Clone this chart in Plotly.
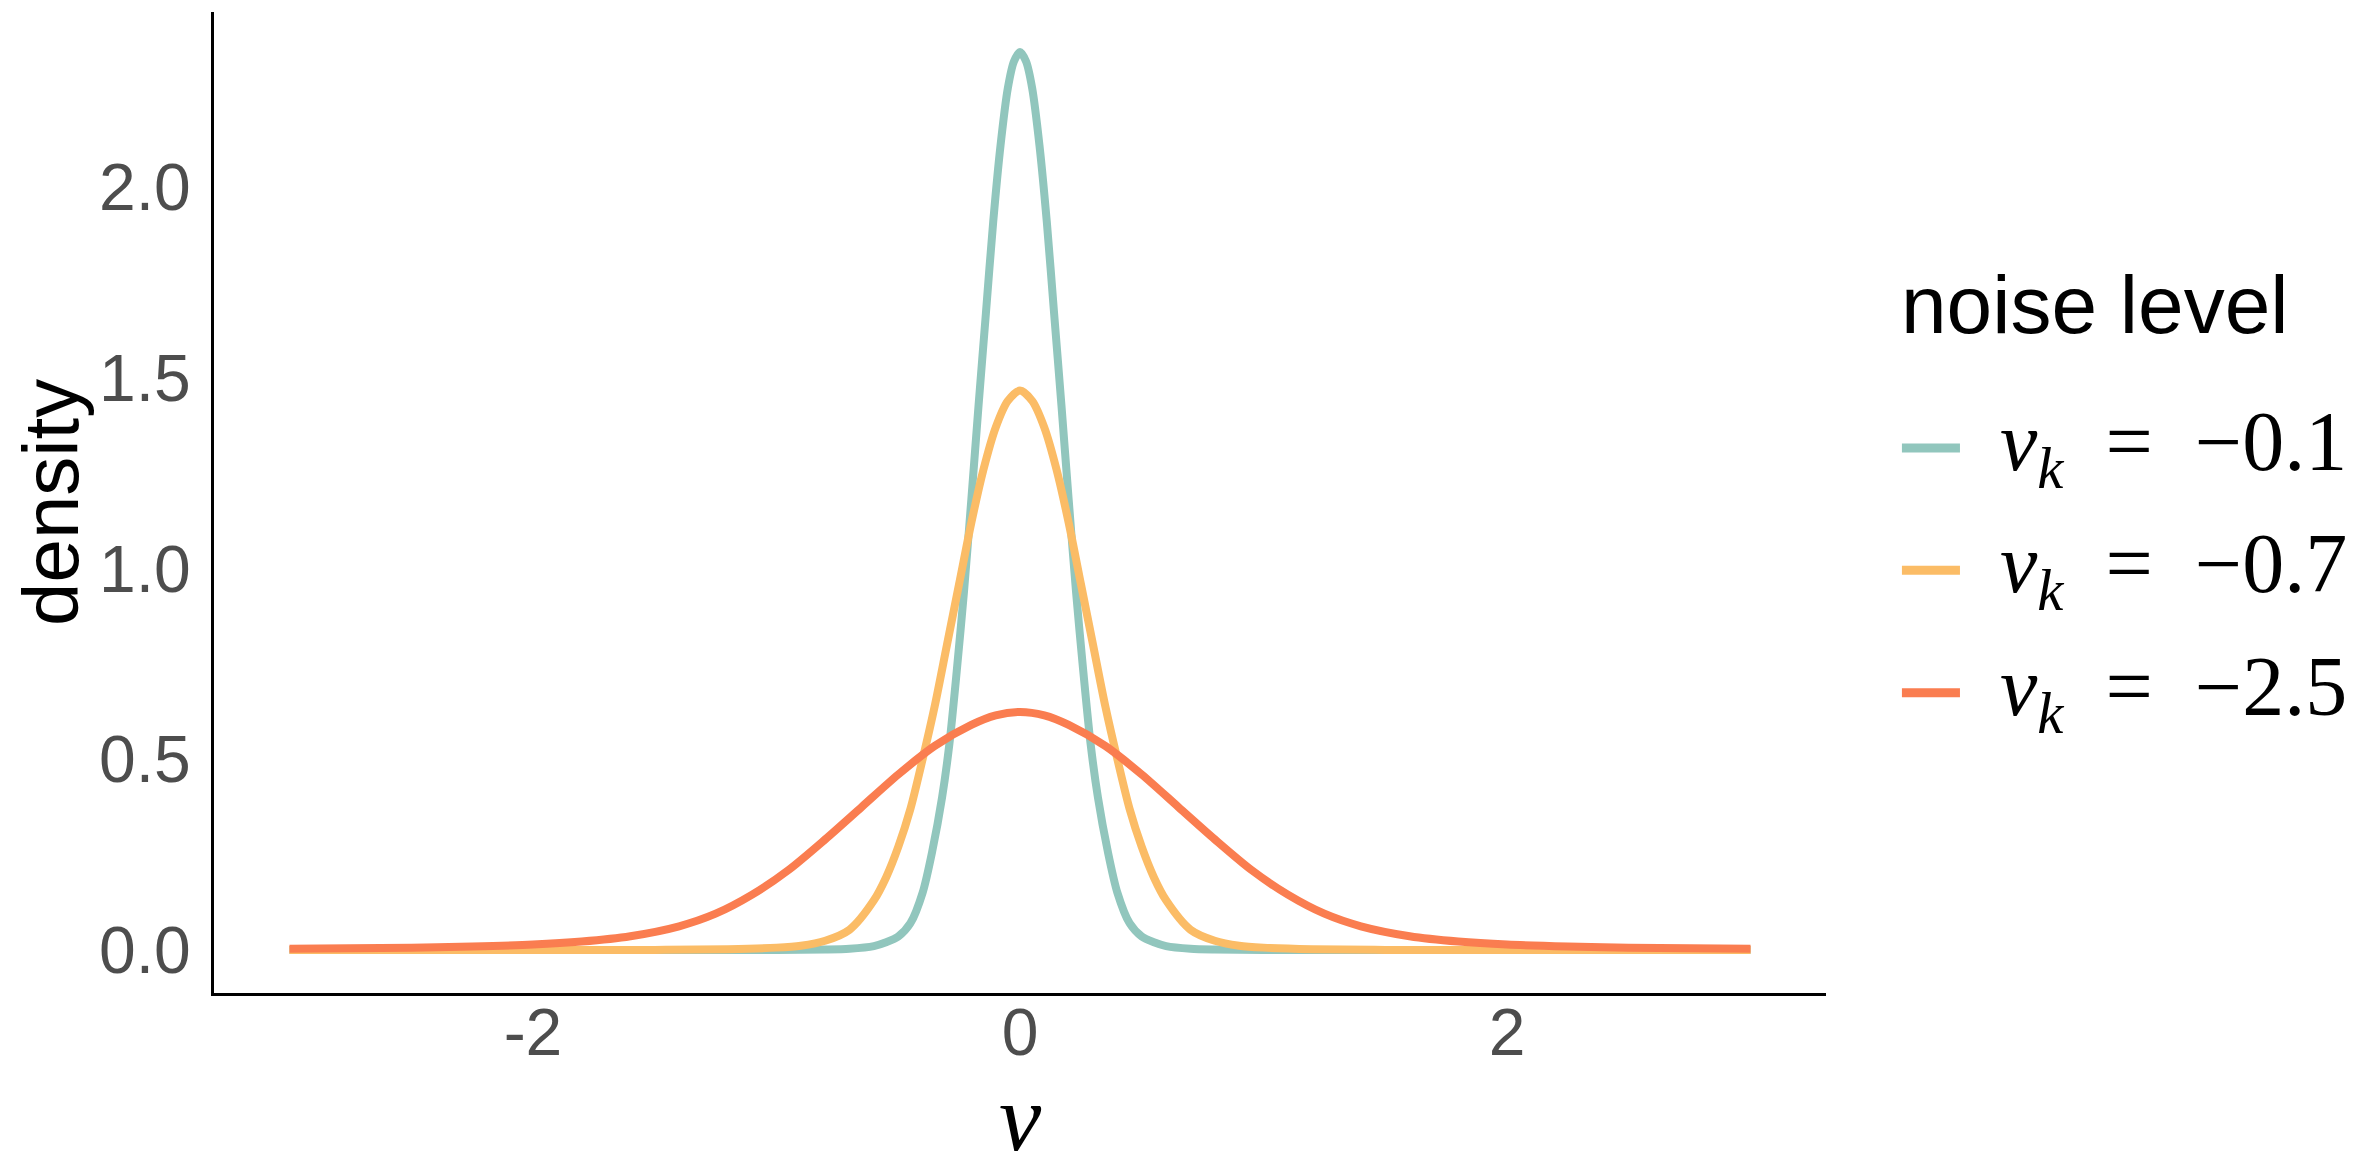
import plotly.graph_objects as go

# density curves, one list per noise level
x_teal = [-3.0, -1.0, -0.8, -0.7, -0.6, -0.55, -0.5, -0.45, -0.4, -0.36, -0.32, -0.29,
          -0.26, -0.23, -0.2, -0.17, -0.14, -0.11, -0.08, -0.05, -0.025, 0.0,
          0.025, 0.05, 0.08, 0.11, 0.14, 0.17, 0.2, 0.23, 0.26, 0.29, 0.32, 0.36,
          0.4, 0.45, 0.5, 0.55, 0.6, 0.7, 0.8, 1.0, 3.0]
y_teal = [0.0, 0.0, 0.001, 0.003, 0.010, 0.02, 0.035, 0.07, 0.15, 0.26, 0.40, 0.54,
          0.73, 0.94, 1.18, 1.43, 1.67, 1.91, 2.11, 2.26, 2.33, 2.355,
          2.33, 2.26, 2.11, 1.91, 1.67, 1.43, 1.18, 0.94, 0.73, 0.54, 0.40, 0.26,
          0.15, 0.07, 0.035, 0.02, 0.010, 0.003, 0.001, 0.0, 0.0]

x_orange = [-3.0, -1.5, -1.2, -1.0, -0.9, -0.8, -0.7, -0.6, -0.55, -0.5, -0.45, -0.4,
            -0.35, -0.3, -0.25, -0.2, -0.15, -0.1, -0.05, 0.0,
            0.05, 0.1, 0.15, 0.2, 0.25, 0.3, 0.35, 0.4, 0.45, 0.5, 0.55, 0.6,
            0.7, 0.8, 0.9, 1.0, 1.2, 1.5, 3.0]
y_orange = [0.0, 0.0, 0.002, 0.006, 0.011, 0.024, 0.053, 0.13, 0.19, 0.27, 0.37, 0.50,
            0.64, 0.80, 0.96, 1.12, 1.26, 1.37, 1.44, 1.467,
            1.44, 1.37, 1.26, 1.12, 0.96, 0.80, 0.64, 0.50, 0.37, 0.27, 0.19, 0.13,
            0.053, 0.024, 0.011, 0.006, 0.002, 0.0, 0.0]

x_red = [-3.0, -2.5, -2.25, -2.0, -1.8, -1.6, -1.4, -1.25, -1.1, -0.95, -0.8, -0.65,
         -0.5, -0.35, -0.2, -0.1, 0.0,
         0.1, 0.2, 0.35, 0.5, 0.65, 0.8, 0.95, 1.1, 1.25, 1.4, 1.6, 1.8, 2.0,
         2.25, 2.5, 3.0]
y_red = [0.003, 0.006, 0.009, 0.014, 0.022, 0.036, 0.062, 0.095, 0.145, 0.21, 0.29, 0.375,
         0.46, 0.535, 0.59, 0.615, 0.624,
         0.615, 0.59, 0.535, 0.46, 0.375, 0.29, 0.21, 0.145, 0.095, 0.062, 0.036, 0.022, 0.014,
         0.009, 0.006, 0.003]

sp = "&nbsp;&nbsp;"
labels = [f"<i>v</i><sub><i>k</i></sub>{sp}={sp}−0.1",
          f"<i>v</i><sub><i>k</i></sub>{sp}={sp}−0.7",
          f"<i>v</i><sub><i>k</i></sub>{sp}={sp}−2.5"]
colors = ["#91C6BD", "#FBBC66", "#FA7D50"]

x_ticks = [-2, 0, 2]
x_tick_text = ["-2", "0", "2"]
y_ticks = [0.0, 0.5, 1.0, 1.5, 2.0]

series = [(x_teal, y_teal), (x_orange, y_orange), (x_red, y_red)]

fig = go.Figure()
for (xs, ys), name, col in zip(series, labels, colors):
    fig.add_trace(go.Scatter(x=xs, y=ys, mode="lines", name=name,
                             line=dict(color=col, width=8, shape="spline", smoothing=0.8),
                             showlegend=False))

# empty trace so the label-only x axis gets drawn
fig.add_trace(go.Scatter(x=[], y=[], xaxis="x2", yaxis="y", mode="lines",
                         showlegend=False, hoverinfo="skip"))

# hand-drawn legend so the key lines match the ggplot look
legend_y = [0.5555, 0.431, 0.306]
for name, col, ly in zip(labels, colors, legend_y):
    fig.add_shape(type="line", xref="paper", yref="paper",
                  x0=1.0471, x1=1.0831, y0=ly, y1=ly,
                  line=dict(color=col, width=9))
    fig.add_annotation(xref="paper", yref="paper", x=1.1067, y=ly,
                       xanchor="left", yanchor="middle", showarrow=False,
                       text=name,
                       font=dict(family="Liberation Serif", size=84, color="black"))

fig.add_annotation(xref="paper", yref="paper", x=1.0453, y=0.702,
                   xanchor="left", yanchor="middle", showarrow=False,
                   text="noise level",
                   font=dict(family="Liberation Sans", size=82, color="black"))

# axis titles
fig.add_annotation(xref="paper", yref="paper", x=-0.1015, y=0.5,
                   textangle=-90, showarrow=False, text="density",
                   xanchor="center", yanchor="middle",
                   font=dict(family="Liberation Sans", size=78, color="black"))
fig.add_annotation(xref="x", yref="paper", x=0, y=-0.1274,
                   showarrow=False, text="<i>v</i>",
                   xanchor="center", yanchor="middle",
                   font=dict(family="Liberation Serif", size=95, color="black"))

fig.update_xaxes(range=[-3.31, 3.31], showticklabels=False,
                 showgrid=False, zeroline=False, showline=True,
                 linecolor="black", linewidth=3, ticks="")
fig.update_yaxes(range=[-0.113, 2.46], tickvals=y_ticks, tickformat=".1f",
                 showgrid=False, zeroline=False, showline=True,
                 linecolor="black", linewidth=3, ticks="",
                 ticklabelstandoff=7,
                 tickfont=dict(family="Liberation Sans", size=66, color="#4D4D4D"))

# second x axis only carries the tick labels, a little closer to the line
fig.update_layout(xaxis2=dict(overlaying="x", anchor="free", position=0.005,
                              side="bottom",
                              range=[-3.31, 3.31], tickvals=x_ticks, ticktext=x_tick_text,
                              showline=False, showgrid=False, zeroline=False,
                              ticks="", ticklabelstandoff=0,
                              tickfont=dict(family="Liberation Sans", size=66,
                                            color="#4D4D4D")))

# page body adds 8px, so the margins are shifted to keep the panel in place
fig.update_layout(width=2366, height=1172,
                  margin=dict(l=206, r=548, t=4, b=187),
                  plot_bgcolor="white", paper_bgcolor="white")

fig.write_html("out.html")
